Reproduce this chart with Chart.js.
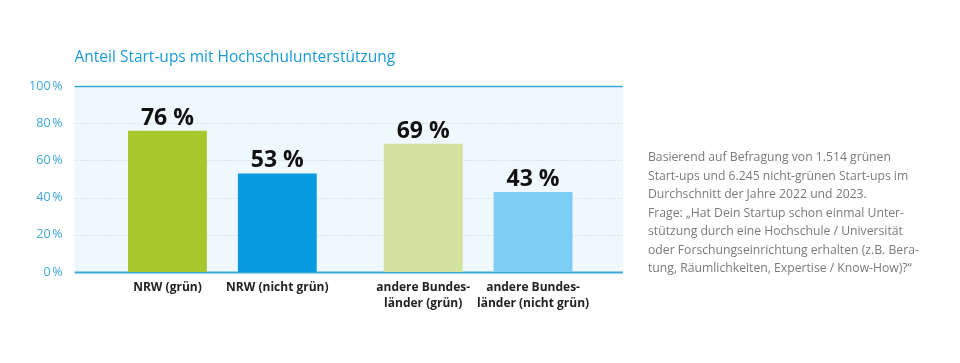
<!DOCTYPE html>
<html>
<head>
<meta charset="utf-8">
<script src="https://cdn.jsdelivr.net/npm/chart.js@4/dist/chart.umd.min.js"></script>
<style>
  html, body { margin: 0; padding: 0; background: #fff; }
  #wrap { position: relative; width: 960px; height: 363px; }
  #note {
    position: absolute; left: 648px; top: 148px; width: 310px;
    font-family: "Open Sans", sans-serif; font-size: 12.2px; line-height: 18.5px;
    color: #7a7a7a; white-space: nowrap;
  }
</style>
</head>
<body>
<div id="wrap">
  <canvas id="chart_support" width="960" height="363"></canvas>
  <div id="note">
    Basierend auf Befragung von 1.514 grünen<br>
    Start-ups und 6.245 nicht-grünen Start-ups im<br>
    Durchschnitt der Jahre 2022 und 2023.<br>
    Frage: „Hat Dein Startup schon einmal Unter-<br>
    stützung durch eine Hochschule / Universität<br>
    oder Forschungseinrichtung erhalten (z.B. Bera-<br>
    tung, Räumlichkeiten, Expertise / Know-How)?“
  </div>
</div>
<script>
const chartTitle = "Anteil Start-ups mit Hochschulunterstützung";

const regions = ["NRW", "andere Bundesländer"];
const greenValues = [76, 69];
const nonGreenValues = [53, 43];

const greenLabels = [["NRW (grün)"], ["andere Bundes-", "länder (grün)"]];
const nonGreenLabels = [["NRW (nicht grün)"], ["andere Bundes-", "länder (nicht grün)"]];

const yTicks = [0, 20, 40, 60, 80, 100];

const greenColors = ["#a6c72e", "#d3e2a0"];
const nonGreenColors = ["#0a9adf", "#7dcdf4"];

const axisBlue = "#3aa6d9";
const extLeft = 20;
const extRight = 17;

// background, grid lines, title, bar labels
const decorPlugin = {
  id: "decor",
  beforeDatasetsDraw(chart) {
    const ctx = chart.ctx;
    const area = chart.chartArea;
    const y = chart.scales.y;
    const x0 = area.left - extLeft;
    const x1 = area.right + extRight;
    ctx.save();
    ctx.fillStyle = "#eff8fd";
    ctx.fillRect(x0, area.top, x1 - x0, area.bottom - area.top);

    yTicks.forEach(t => {
      const py = Math.round(y.getPixelForValue(t)) + 0.5;
      ctx.beginPath();
      if (t == 0 || t == 100) {
        ctx.setLineDash([]);
        ctx.strokeStyle = axisBlue;
        ctx.lineWidth = t == 0 ? 2 : 1.5;
      } else {
        ctx.setLineDash([1, 2]);
        ctx.strokeStyle = "#c3d0d8";
        ctx.lineWidth = 1;
      }
      ctx.moveTo(x0, py);
      ctx.lineTo(x1, py);
      ctx.stroke();
    });
    ctx.restore();
  },
  afterDatasetsDraw(chart) {
    const ctx = chart.ctx;
    const area = chart.chartArea;
    ctx.save();

    ctx.fillStyle = "#1a9ad6";
    ctx.font = "15.5px 'Open Sans', sans-serif";
    ctx.textAlign = "left";
    ctx.textBaseline = "middle";
    ctx.fillText(chartTitle, area.left - extLeft, 58);

    const allLabels = [greenLabels, nonGreenLabels];
    chart.data.datasets.forEach((ds, di) => {
      const meta = chart.getDatasetMeta(di);
      meta.data.forEach((bar, i) => {
        ctx.fillStyle = "#111";
        ctx.textAlign = "center";
        ctx.textBaseline = "bottom";
        ctx.font = "bold 23px 'Open Sans', sans-serif";
        ctx.fillText(ds.data[i] + " %", bar.x, bar.y - 1);

        ctx.font = "bold 12px 'Open Sans', sans-serif";
        ctx.fillStyle = "#222";
        ctx.textBaseline = "middle";
        allLabels[di][i].forEach((line, li) => {
          ctx.fillText(line, bar.x, area.bottom + 16 + li * 15.5);
        });
      });
    });
    ctx.restore();
  }
};

new Chart(document.getElementById("chart_support"), {
  type: "bar",
  data: {
    labels: regions,
    datasets: [
      {
        label: "grün",
        data: greenValues,
        backgroundColor: greenColors,
        categoryPercentage: 0.859,
        barPercentage: 0.718
      },
      {
        label: "nicht grün",
        data: nonGreenValues,
        backgroundColor: nonGreenColors,
        categoryPercentage: 0.859,
        barPercentage: 0.718
      }
    ]
  },
  options: {
    responsive: false,
    animation: false,
    layout: {
      padding: { top: 86, right: 354, bottom: 91, left: 0 }
    },
    scales: {
      x: {
        display: false
      },
      y: {
        min: 0,
        max: 100,
        afterFit: (scale) => { scale.width = 94.5; },
        afterBuildTicks: (scale) => { scale.ticks = yTicks.map(v => ({ value: v })); },
        border: { display: false },
        grid: { display: false },
        ticks: {
          padding: 24,
          color: "#3aa6d9",
          font: { family: "'Open Sans', sans-serif", size: 12.5 },
          callback: (v) => v + "\u202f%"
        }
      }
    },
    plugins: {
      legend: { display: false },
      tooltip: { enabled: false }
    }
  },
  plugins: [decorPlugin]
});
</script>
</body>
</html>
